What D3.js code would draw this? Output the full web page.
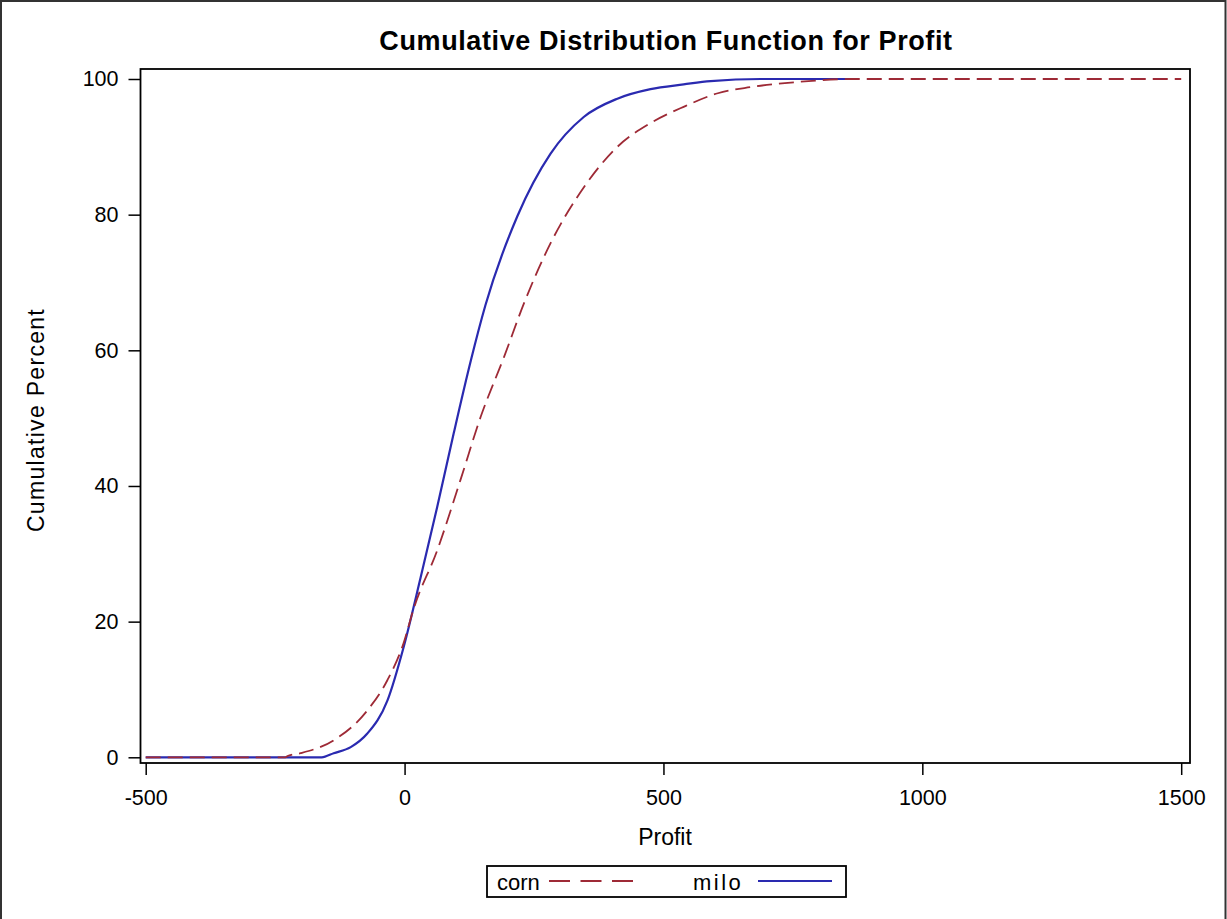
<!DOCTYPE html>
<html>
<head>
<meta charset="utf-8">
<script src="https://cdn.jsdelivr.net/npm/d3@7"></script>
<style>
  html, body { margin: 0; padding: 0; background: #fff; }
  svg { display: block; }
  text { font-family: "Liberation Sans", Arial, sans-serif; fill: #000; }
</style>
</head>
<body>
<svg id="chart" width="1227" height="919"></svg>
<script>
// ---- data ----
const cornProfit  = [-500, -230, -227, -201, -137, -72, -33, -2, 18, 63, 108, 147, 192, 232, 282, 346, 411, 475, 539, 605, 668, 765, 862, 1500];
const cornPercent = [0, 0, 0.15, 0.6, 2.5, 6.9, 11.4, 16.8, 22, 30.5, 40.9, 50.2, 59, 67.2, 75.8, 84, 90, 93.5, 95.9, 97.9, 98.8, 99.6, 100, 100];
const miloProfit  = [-500, -160, -137, -104, -72, -33, -2, 31, 63, 95, 128, 156, 218, 282, 346, 411, 475, 539, 591, 688, 868];
const miloPercent = [0, 0, 0.6, 1.5, 3.5, 8.4, 16.2, 26.5, 36.9, 47.8, 58.5, 66.6, 79.8, 89, 94.4, 97.1, 98.5, 99.2, 99.7, 100, 100];
const xTicks = [-500, 0, 500, 1000, 1500];
const yTicks = [0, 20, 40, 60, 80, 100];
const seriesNames = ["corn", "milo"];
const titleText = "Cumulative Distribution Function for Profit";
const xLabel = "Profit";
const yLabel = "Cumulative Percent";

const colors = { corn: "#9e2a36", milo: "#2a2ab0" };

const svg = d3.select("#chart");
const W = 1227, H = 919;
const frame = { left: 140.5, right: 1190, top: 69, bottom: 763 };

// outer border
svg.append("rect").attr("x", 1).attr("y", 1).attr("width", W - 2.5).attr("height", H + 10)
  .attr("fill", "none").attr("stroke", "#333").attr("stroke-width", 2);

const x = d3.scaleLinear().domain([-500, 1500]).range([145.7, 1181.2]);
const y = d3.scaleLinear().domain([0, 100]).range([757.3, 79]);

// title
svg.append("text").attr("x", 666).attr("y", 50).attr("text-anchor", "middle")
  .style("font-weight", "bold").style("font-size", "27px").style("letter-spacing", "0.6px").text(titleText);

// axes
const fmt = d => String(d);
const xAxis = d3.axisBottom(x).tickValues(xTicks).tickSize(12).tickPadding(15).tickFormat(fmt);
const gx = svg.append("g").attr("transform", `translate(0,${frame.bottom})`).call(xAxis);
gx.select(".domain").remove();
gx.selectAll("line").attr("stroke", "#000").attr("stroke-width", 1.5);
gx.selectAll("text").style("font-size", "21.5px").attr("fill", "#111");

const yAxis = d3.axisLeft(y).tickValues(yTicks).tickSize(12).tickPadding(10).tickFormat(fmt);
const gy = svg.append("g").attr("transform", `translate(${frame.left},0)`).call(yAxis);
gy.select(".domain").remove();
gy.selectAll("line").attr("stroke", "#000").attr("stroke-width", 1.5);
gy.selectAll("text").style("font-size", "21.5px").attr("fill", "#111");

// axis labels
svg.append("text").attr("x", 665).attr("y", 845).attr("text-anchor", "middle")
  .style("font-size", "23px").attr("fill", "#111").text(xLabel);
svg.append("text").attr("transform", "translate(44,420) rotate(-90)").attr("text-anchor", "middle")
  .style("font-size", "23px").style("letter-spacing", "1.3px").attr("fill", "#111").text(yLabel);

// lines
const line = d3.line().x(d => x(d[0])).y(d => y(d[1])).curve(d3.curveMonotoneX);
const corn = cornProfit.map((v, i) => [v, cornPercent[i]]);
const milo = miloProfit.map((v, i) => [v, miloPercent[i]]);

svg.append("path").datum(milo).attr("d", line).attr("fill", "none")
  .attr("stroke", colors.milo).attr("stroke-width", 2.2);
svg.append("path").datum(corn).attr("d", line).attr("fill", "none")
  .attr("stroke", colors.corn).attr("stroke-width", 1.8).attr("stroke-dasharray", "15,7");

// frame
svg.append("rect").attr("x", frame.left).attr("y", frame.top)
  .attr("width", frame.right - frame.left).attr("height", frame.bottom - frame.top)
  .attr("fill", "none").attr("stroke", "#000").attr("stroke-width", 1.8);

// legend
const lg = svg.append("g");
lg.append("rect").attr("x", 487).attr("y", 866).attr("width", 359).attr("height", 31)
  .attr("fill", "#fff").attr("stroke", "#000").attr("stroke-width", 1.8);
lg.append("text").attr("x", 497).attr("y", 890).style("font-size", "22px").attr("fill", "#111").text(seriesNames[0]);
lg.append("line").attr("x1", 549).attr("x2", 633).attr("y1", 881).attr("y2", 881)
  .attr("stroke", colors.corn).attr("stroke-width", 1.8).attr("stroke-dasharray", "21,10.5");
lg.append("text").attr("x", 693).attr("y", 890).style("font-size", "22px").style("letter-spacing", "2.5px")
  .attr("fill", "#111").text(seriesNames[1]);
lg.append("line").attr("x1", 758).attr("x2", 832).attr("y1", 881).attr("y2", 881)
  .attr("stroke", colors.milo).attr("stroke-width", 2);
</script>
</body>
</html>
